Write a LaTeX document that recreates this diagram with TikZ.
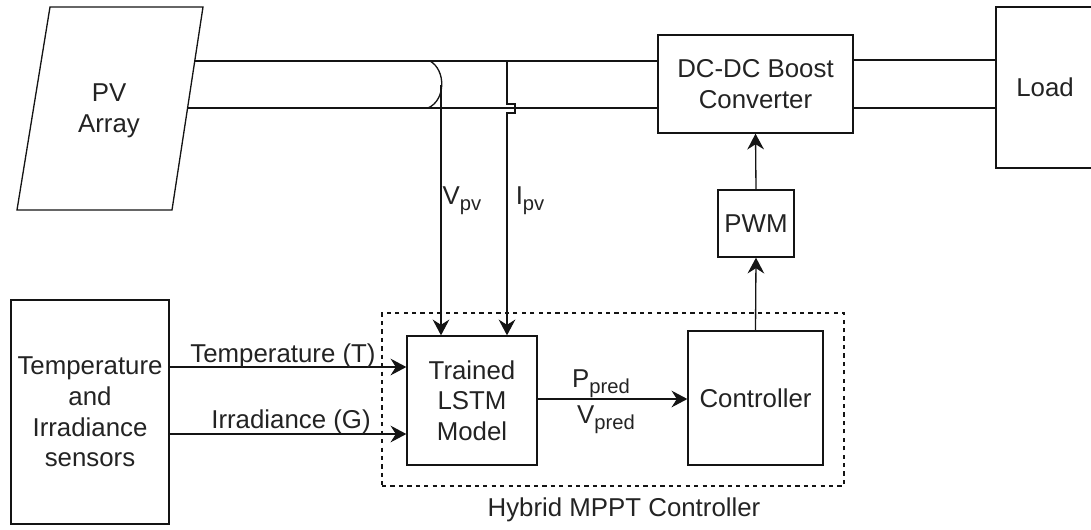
\documentclass[tikz,border=0pt]{standalone}
\usepackage{fontspec}
\setmainfont{Liberation Sans}
\usepackage{tikz}
\usetikzlibrary{arrows.meta,positioning}
\definecolor{linecol}{RGB}{20,20,20}
\definecolor{textcol}{RGB}{35,35,35}
\newcommand{\lowidx}[1]{\raisebox{-0.45ex}{\fontsize{11.5}{12}\selectfont #1}}

\begin{document}
\begin{tikzpicture}[
  x=0.02cm, y=-0.02cm,
  font=\fontsize{14.7}{17.5}\selectfont, text=textcol,
  box/.style={draw=linecol, line width=0.75pt, align=center, inner sep=0pt},
  wire/.style={line width=0.75pt, draw=linecol},
  arr/.style={-{Stealth[length=9pt,width=9.5pt,inset=3pt]}, line width=0.75pt, draw=linecol},
  lbl/.style={anchor=base, inner sep=0pt}
]
\useasboundingbox (0,0) rectangle (1091,529);

% PV array (parallelogram)
\draw[wire] (50,7) -- (203,7) -- (172,210) -- (17,210) -- cycle;
\node[align=center] (pv) at (109,111) {PV\\Array};
\coordinate (pvtop) at (194.8,61);
\coordinate (pvbot) at (187.6,108);

% blocks
\node[box, minimum width=3.9cm,  minimum height=1.96cm] (dcdc) at (755.5,84)  {DC-DC Boost\\Converter};
\node[box, minimum width=1.96cm, minimum height=3.22cm] (load) at (1045,87.5) {Load};
\node[box, minimum width=1.52cm, minimum height=1.34cm] (pwm)  at (756,223.5) {PWM};
\node[box, minimum width=3.16cm, minimum height=4.48cm] (sens) at (90,412)    {Temperature\\and\\Irradiance\\sensors};
\node[box, dashed, dash pattern=on 2.4pt off 2.4pt,
      minimum width=9.24cm, minimum height=3.46cm] (hybrid) at (613,399.5) {};
\node[box, minimum width=2.6cm,  minimum height=2.58cm] (lstm) at (472,400.5) {Trained\\LSTM\\Model};
\node[box, minimum width=2.7cm,  minimum height=2.68cm] (ctrl) at (755.5,398) {Controller};
\node[lbl] (hybridlbl) at (624,516) {Hybrid MPPT Controller};

% power wires
\draw[wire] (pvtop) -- (pvtop -| dcdc.west);
\draw[wire] (pvbot) -- (pvbot -| dcdc.west);
\draw[wire] (dcdc.east |- 0,60) -- (load.west |- 0,60);
\draw[wire] (dcdc.east |- 0,108) -- (load.west |- 0,108);

% voltage sensing
\coordinate (vtap) at (430,61);
\coordinate (vjoin) at (428,108);
\coordinate (vpeak) at (441,85);
\draw[wire] (vtap) .. controls (446,70) and (446,100) .. (vjoin);
\draw[arr] (vpeak) -- (vpeak |- lstm.north);
\node[lbl] (vpv) at (462,204) {V\lowidx{pv}};

% current sensing
\coordinate (itap) at (507,61);
\draw[arr] (itap) -- ++(0,43) -- ++(8,0) -- ++(0,9) -- ++(-8,0) -- (itap |- lstm.north);
\node[lbl] (ipv) at (530,204) {I\lowidx{pv}};

% sensor inputs
\draw[arr] (sens.east |- 0,367) -- (lstm.west |- 0,367);
\draw[arr] (sens.east |- 0,434) -- (lstm.west |- 0,434);
\node[lbl] (tlbl) at (283,362) {Temperature (T)};
\node[lbl] (glbl) at (291,428) {Irradiance (G)};

% prediction
\draw[arr] (lstm.east |- 0,399) -- (ctrl.west |- 0,399);
\node[lbl] (plbl) at (601,387) {P\lowidx{pred}};
\node[lbl] (vlbl) at (606,423) {V\lowidx{pred}};

% control path
\draw[arr] (ctrl.north) -- (pwm.south);
\draw[arr] (pwm.north) -- (dcdc.south);

\end{tikzpicture}
\end{document}
